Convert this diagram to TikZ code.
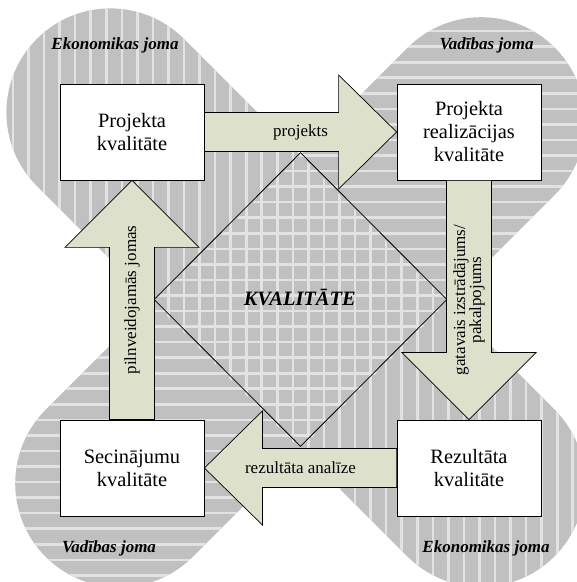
\documentclass[tikz,border=0pt]{standalone}
\usepackage{fontspec}
\setmainfont{Liberation Serif}
\usetikzlibrary{calc,shapes.geometric}

\begin{document}
\begin{tikzpicture}
		[x=1pt,y=1pt,line join=miter,
		%Styles
		quality box/.style={draw,fill=white,line width=0.8pt,minimum width=144pt,minimum height=96pt,inner sep=0pt,align=center,font=\fontsize{20.4}{23}\selectfont},
		block arrow/.style={draw,fill=arrowfill,line width=0.7pt},
		arrow text/.style={align=center,inner sep=0pt,font=\fontsize{17}{16}\selectfont},
		zone text/.style={anchor=base,inner sep=0pt,font=\fontsize{17}{20}\selectfont\bfseries\itshape},
		band fill/.style={bandgray,line width=208pt,line cap=round},
		stripe line/.style={stripecolor,line width=2.6pt}
		]
		
		%Colors
		\definecolor{bandgray}{RGB}{192,192,192}
		\definecolor{stripecolor}{RGB}{226,226,226}
		\definecolor{arrowfill}{RGB}{221,225,204}
		
		\useasboundingbox (0,0) rectangle (577,582);
		
		%The bands
		\coordinate (e1) at (110.4,469.6);
		\coordinate (e2) at (480.9,99.1);
		\coordinate (v1) at (481.3,460.8);
		\coordinate (v2) at (119.2,98.7);
		\draw[band fill] (e1) -- (e2);
		\draw[band fill] (v1) -- (v2);
		
		\begin{scope}
			\clip ($(e1)+(45:104)$) -- ($(e2)+(45:104)$) arc[start angle=45,end angle=-135,radius=104]
				-- ($(e1)+(-135:104)$) arc[start angle=-135,end angle=-315,radius=104] -- cycle;
			\foreach \k in {0,...,37}
				\draw[stripe line] ({12.95+15.55*\k},0) -- ++(0,582);
		\end{scope}
		\begin{scope}
			\clip ($(v1)+(135:104)$) -- ($(v2)+(135:104)$) arc[start angle=135,end angle=315,radius=104]
				-- ($(v1)+(315:104)$) arc[start angle=315,end angle=495,radius=104] -- cycle;
			\foreach \k in {0,...,37}
				\draw[stripe line] (0,{581.95-15.55*\k}) -- ++(577,0);
		\end{scope}
		
		\node[zone text] (ekotl) at (115,532) {Ekonomikas joma};
		\node[zone text] (vadtr) at (486.5,532) {Vadības joma};
		\node[zone text] (vadbl) at (109,29) {Vadības joma};
		\node[zone text] (ekobr) at (486,29) {Ekonomikas joma};
		
		%The diamond
		\node[draw,diamond,line width=0.8pt,minimum width=293pt,minimum height=294pt,inner sep=0pt] (kval) at (300.5,282.5) {};
		\node[anchor=base,inner sep=0pt,font=\fontsize{20.4}{24}\selectfont\bfseries\itshape] (kvaltext) at (299.7,276) {KVALITĀTE};
		
		%The boxes
		\node[quality box] (proj) at (132,450) {Projekta\\kvalitāte};
		\node[quality box] (real) at (469,450) {Projekta\\realizācijas\\kvalitāte};
		\node[quality box] (rez) at (469,114) {Rezultāta\\kvalitāte};
		\node[quality box] (sec) at (132,114) {Secinājumu\\kvalitāte};
		
		%The arrows
		\draw[block arrow] ($(proj.east)+(0,19.5)$) -- ($(real.west)+(-58,19.5)$) -- ($(real.west)+(-58,57)$) -- (real.west)
			-- ($(real.west)+(-58,-57)$) -- ($(real.west)+(-58,-19.5)$) -- ($(proj.east)+(0,-19.5)$) -- cycle;
		\draw[block arrow] ($(real.south)+(-22.5,0)$) -- ($(rez.north)+(-22.5,67)$) -- ($(rez.north)+(-67,67)$) -- (rez.north)
			-- ($(rez.north)+(67,67)$) -- ($(rez.north)+(22.5,67)$) -- ($(real.south)+(22.5,0)$) -- cycle;
		\draw[block arrow] ($(rez.west)+(0,19.5)$) -- ($(sec.east)+(58,19.5)$) -- ($(sec.east)+(58,57)$) -- (sec.east)
			-- ($(sec.east)+(58,-57)$) -- ($(sec.east)+(58,-19.5)$) -- ($(rez.west)+(0,-19.5)$) -- cycle;
		\draw[block arrow] ($(sec.north)+(-22.5,0)$) -- ($(proj.south)+(-22.5,-67)$) -- ($(proj.south)+(-67,-67)$) -- (proj.south)
			-- ($(proj.south)+(67,-67)$) -- ($(proj.south)+(22.5,-67)$) -- ($(sec.north)+(22.5,0)$) -- cycle;
		
		\node[arrow text] (projekts) at ($(proj.east)!0.5!(real.west)$) {projekts};
		\node[arrow text,rotate=90] (gatavais) at ($(real.south)!0.5!(rez.north)$) {gatavais izstrādājums/\\pakalpojums};
		\node[arrow text] (analize) at ($(rez.west)!0.5!(sec.east)$) {rezultāta analīze};
		\node[arrow text,rotate=90] (pilnv) at ($(sec.north)!0.5!(proj.south)$) {pilnveidojamās jomas};
	\end{tikzpicture}
\end{document}
